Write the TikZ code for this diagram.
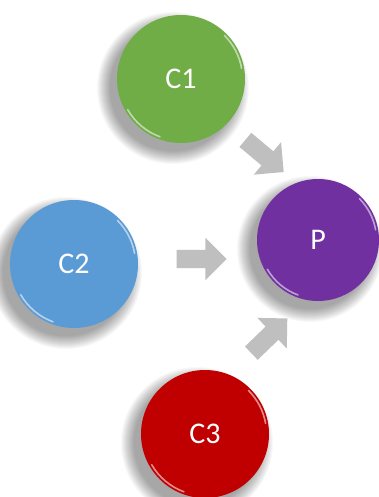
\documentclass[tikz,border=0pt]{standalone}
\usepackage{fontspec}
\setmainfont{Carlito}
\usetikzlibrary{shapes.arrows}
\definecolor{cgreen}{HTML}{70AD47}
\definecolor{cblue}{HTML}{5B9BD5}
\definecolor{cred}{HTML}{C00000}
\definecolor{cpurple}{HTML}{7030A0}
\definecolor{agray}{HTML}{BFBFBF}
\tikzset{
  ball/.style={circle, minimum size=128pt, inner sep=0pt, fill=#1, text=white,
    font=\fontsize{30}{32}\selectfont},
  blockarrow/.style={single arrow, fill=agray, inner sep=0pt, minimum height=50pt,
    single arrow head extend=12pt, single arrow head indent=0pt},
  shine/.style={white, opacity=0.55, line width=1.6pt, line cap=round},
  softshadow/.style={fill=black, fill opacity=0.028}
}
\begin{document}
\begin{tikzpicture}[x=1pt,y=-1pt]
\useasboundingbox (0,0) rectangle (379,497);
\fill[white] (0,0) rectangle (379,497);
\coordinate (k1) at (181,79);
\coordinate (k2) at (74,264);
\coordinate (k3) at (205,434);
\coordinate (kp) at (318,240);
% soft shadows
\foreach \k/\r in {k1/64,k2/64,k3/64,kp/61}{
  \foreach \i in {0,...,13}{
    \fill[softshadow] ([shift={(-8,9)}]\k) circle[radius=\r+12-\i];
  }
}
\node[ball=cgreen] (c1) at (k1) {C1};
\node[ball=cblue] (c2) at (k2) {C2};
\node[ball=cred] (c3) at (k3) {C3};
\node[ball=cpurple, minimum size=122pt] (p) at (kp) {P};
\foreach \n/\r in {c1/64,c2/64,c3/64,p/61}{
  \draw[shine] (\n.center) ++(150:\r-2.5) arc[start angle=150, end angle=110, radius=\r-2.5];
  \draw[shine] (\n.center) ++(-10:\r-2.5) arc[start angle=-10, end angle=-45, radius=\r-2.5];
}
\node[blockarrow, rotate=-40] (a1) at (261,153) {\rule{0pt}{18pt}};
\node[blockarrow] (a2) at (197,259) {\rule{0pt}{18pt}};
\node[blockarrow, rotate=44] (a3) at (266,339) {\rule{0pt}{18pt}};
\end{tikzpicture}
\end{document}
